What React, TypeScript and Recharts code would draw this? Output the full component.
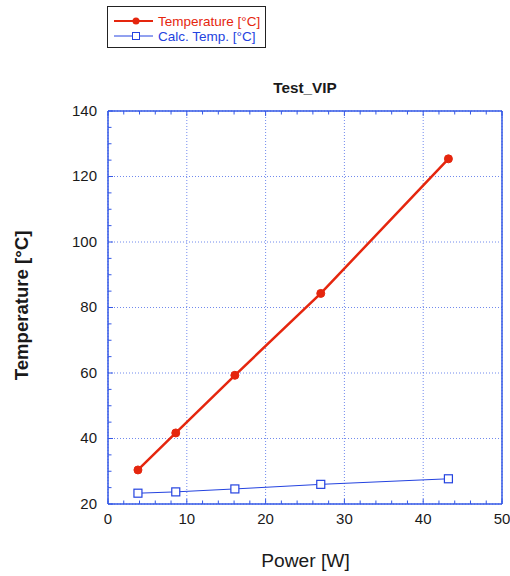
import { CartesianGrid, Line, LineChart, XAxis, YAxis } from "recharts"

// measured points
const power = [3.8, 8.6, 16.1, 27.0, 43.2]
const temperature = [30.4, 41.7, 59.3, 84.3, 125.4]
const calcTemp = [23.3, 23.7, 24.6, 26.0, 27.7]

const xMajor = [0, 10, 20, 30, 40, 50]
const xMinor = [2, 4, 6, 8, 12, 14, 16, 18, 22, 24, 26, 28, 32, 34, 36, 38, 42, 44, 46, 48]
const yMajor = [20, 40, 60, 80, 100, 120, 140]
const yMinor = [25, 30, 35, 45, 50, 55, 65, 70, 75, 85, 90, 95, 105, 110, 115, 125, 130, 135]

const title = "Test_VIP"
const xLabel = "Power [W]"
const yLabel = "Temperature [°C]"
const seriesNames = ["Temperature [°C]", "Calc. Temp. [°C]"]

const data = power.map((p, i) => ({ power: p, temp: temperature[i], calc: calcTemp[i] }))
const xTicks = [...xMajor, ...xMinor].sort((a, b) => a - b)
const yTicks = [...yMajor, ...yMinor].sort((a, b) => a - b)

const RED = "#e5260e"
const BLUE = "#2443e0"
const AXIS = "#3558e6"
const INK = "#1a1a1a"
const FONT = "'Liberation Sans', Arial, sans-serif"

const SquareDot = ({ cx, cy }: any) => {
  if (cx == null || cy == null) return null
  return <rect x={cx - 4} y={cy - 4} width={8} height={8} fill="#fff" stroke={BLUE} strokeWidth={1.2} />
}

// draws the inward tick mark (long for major, short for minor) and the label if asked
const makeTick = (side: "bottom" | "top" | "left" | "right", majors: number[], labels: boolean) => (props: any) => {
  const { x, y, payload } = props
  const major = majors.includes(payload.value)
  const len = major ? 5 : 3.5
  let line
  if (side === "bottom") line = <line x1={x} x2={x} y1={y} y2={y - len} stroke={AXIS} />
  else if (side === "top") line = <line x1={x} x2={x} y1={y} y2={y + len} stroke={AXIS} />
  else if (side === "left") line = <line x1={x} x2={x + len} y1={y} y2={y} stroke={AXIS} />
  else line = <line x1={x} x2={x - len} y1={y} y2={y} stroke={AXIS} />
  let label = null
  if (labels && major) {
    if (side === "bottom")
      label = <text x={x} y={y + 19.5} textAnchor="middle" fill={INK} fontSize={15} fontFamily={FONT}>{payload.value}</text>
    else if (side === "left")
      label = <text x={x - 11} y={y + 4.5} textAnchor="end" fill={INK} fontSize={15} fontFamily={FONT}>{payload.value}</text>
  }
  return (
    <g>
      {line}
      {label}
    </g>
  )
}

const Legend = () => (
  <svg width={159} height={42} style={{ position: "absolute", left: 107, top: 6 }}>
    <rect x={0.5} y={0.5} width={158} height={41} fill="#fff" stroke="#222" />
    <line x1={7} x2={46} y1={15} y2={15} stroke={RED} strokeWidth={2} />
    <circle cx={29} cy={15} r={3.5} fill={RED} />
    <line x1={7} x2={46} y1={30} y2={30} stroke={BLUE} strokeWidth={1} />
    <rect x={25.5} y={26.5} width={7} height={7} fill="#fff" stroke={BLUE} />
    <text x={51} y={20} fill={RED} fontFamily={FONT} fontSize={13.5}>
      {seriesNames[0]}
    </text>
    <text x={51} y={35} fill={BLUE} fontFamily={FONT} fontSize={13.5}>
      {seriesNames[1]}
    </text>
  </svg>
)

const Titles = () => (
  <svg width={510} height={576} style={{ position: "absolute", left: 0, top: 0, pointerEvents: "none" }}>
    <text x={305} y={92.5} textAnchor="middle" fontFamily={FONT} fontWeight="bold" fontSize={15.3} fill={INK}>
      {title}
    </text>
    <text x={305.5} y={567} textAnchor="middle" fontFamily={FONT} fontSize={19.2} fill={INK}>
      {xLabel}
    </text>
    <text x={28} y={305.5} textAnchor="middle" transform="rotate(-90 28 305.5)" fontFamily={FONT}
      fontWeight="bold" fontSize={18.6} fill={INK}>
      {yLabel}
    </text>
  </svg>
)

const axisLine = { stroke: AXIS, strokeWidth: 1.5 }

export default function App() {
  return (
    <div style={{ position: "absolute", left: 0, top: 0, width: 510, height: 576, background: "#fff" }}>
      <LineChart width={510} height={576} data={data} margin={{ top: 110, right: 7, bottom: 71, left: 107 }}>
        <CartesianGrid xAxisId="x" yAxisId="y" verticalValues={xMajor} horizontalValues={yMajor}
          stroke={AXIS} strokeOpacity={0.7} strokeDasharray="1 2" />

        <XAxis xAxisId="x" type="number" dataKey="power" domain={[0, 50]} ticks={xTicks} interval={0}
          height={1} axisLine={axisLine} tickLine={false} tickSize={0} tickMargin={0}
          tick={makeTick("bottom", xMajor, true)} />
        <XAxis xAxisId="xt" orientation="top" type="number" dataKey="power" domain={[0, 50]} ticks={xTicks}
          interval={0} height={1} axisLine={axisLine} tickLine={false} tickSize={0} tickMargin={0}
          tick={makeTick("top", xMajor, false)} />
        <YAxis yAxisId="y" type="number" domain={[20, 140]} ticks={yTicks} interval={0} width={1}
          axisLine={axisLine} tickLine={false} tickSize={0} tickMargin={0}
          tick={makeTick("left", yMajor, true)} />
        <YAxis yAxisId="yr" orientation="right" type="number" domain={[20, 140]} ticks={yTicks} interval={0}
          width={1} axisLine={axisLine} tickLine={false} tickSize={0} tickMargin={0}
          tick={makeTick("right", yMajor, false)} />

        <Line xAxisId="x" yAxisId="y" type="linear" dataKey="calc" stroke={BLUE} strokeWidth={1}
          dot={<SquareDot />} activeDot={false} isAnimationActive={false} />
        <Line xAxisId="x" yAxisId="y" type="linear" dataKey="temp" stroke={RED} strokeWidth={2.5}
          dot={{ r: 4, fill: RED, stroke: RED, strokeWidth: 1 }} activeDot={false} isAnimationActive={false} />
      </LineChart>

      <Legend />
      <Titles />
    </div>
  )
}
